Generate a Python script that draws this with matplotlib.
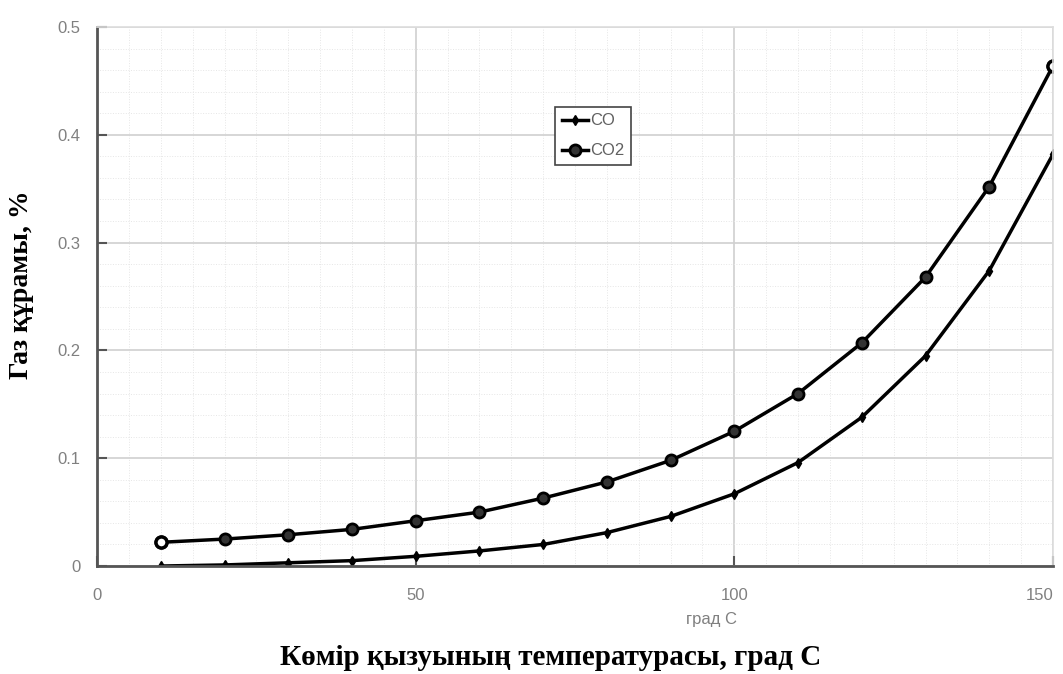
import numpy as np
import matplotlib.pyplot as plt
from matplotlib.ticker import MultipleLocator

# temperature, grad C
temp = [10, 20, 30, 40, 50, 60, 70, 80, 90, 100, 110, 120, 130, 140, 150]
# gas content, %
co = [0.000, 0.001, 0.003, 0.005, 0.009, 0.014, 0.020, 0.031, 0.046,
      0.067, 0.096, 0.138, 0.195, 0.274, 0.382]
co2 = [0.022, 0.025, 0.029, 0.034, 0.042, 0.050, 0.063, 0.078, 0.098,
       0.125, 0.160, 0.207, 0.268, 0.352, 0.464]

x_ticks = [0, 50, 100, 150]
y_ticks = [0, 0.1, 0.2, 0.3, 0.4, 0.5]
y_labels = ['0', '0.1', '0.2', '0.3', '0.4', '0.5']

tick_font = ['Liberation Sans', 'DejaVu Sans']
label_font = ['Liberation Serif', 'DejaVu Serif']

fig = plt.figure(figsize=(10.63, 6.74), dpi=100)
ax = fig.add_axes([0.0913, 0.1602, 0.8993, 0.7998])

ax.set_xlim(0, 150)
ax.set_ylim(0, 0.5)
ax.set_xticks(x_ticks)
ax.set_yticks(y_ticks)
ax.set_xticklabels([str(t) for t in x_ticks], family=tick_font, fontsize=12, color='#808080')
ax.set_yticklabels(y_labels, family=tick_font, fontsize=12, color='#808080')
# last x label sits against the right edge
ax.get_xticklabels()[-1].set_horizontalalignment('right')
ax.xaxis.set_minor_locator(MultipleLocator(5))
ax.yaxis.set_minor_locator(MultipleLocator(0.02))

ax.grid(which='major', color='#d0d0d0', linewidth=1.2)
ax.grid(which='minor', color='#e6e6e6', linewidth=0.7, linestyle=':')
ax.set_axisbelow(True)

ax.tick_params(which='major', direction='in', length=7, width=1.5, color='#555555')
ax.tick_params(axis='x', pad=16)
ax.tick_params(axis='y', pad=12)
ax.tick_params(which='minor', length=0)

for side in ['top', 'right']:
    ax.spines[side].set_color('#dddddd')
    ax.spines[side].set_linewidth(1.2)
for side in ['left', 'bottom']:
    ax.spines[side].set_color('#555555')
    ax.spines[side].set_linewidth(2)

ax.plot(temp, co, color='black', linewidth=2.5, marker='d', markersize=5, label='CO')
ax.plot(temp, co2, color='black', linewidth=2.5, marker='o', markersize=8,
        markerfacecolor='#333333', markeredgewidth=2, label='CO2')
# open end markers on the CO2 curve
ax.plot(temp, co2, linestyle='none', marker='o', markersize=8, markevery=[0, len(temp) - 1],
        markerfacecolor='white', markeredgecolor='black', markeredgewidth=2.5)

leg = ax.legend(loc='upper left', bbox_to_anchor=(0.479, 0.852),
                prop={'family': tick_font, 'size': 12}, handlelength=1.6,
                handletextpad=0.1, borderpad=0.4, labelspacing=0.9,
                borderaxespad=0, fancybox=False, framealpha=1)
leg.get_frame().set_edgecolor('#444444')
leg.get_frame().set_linewidth(1.2)
for t in leg.get_texts():
    t.set_color('#606060')

ax.text(0.643, -0.085, 'град С', transform=ax.transAxes, ha='center', va='top',
        family=tick_font, fontsize=12, color='#808080')

fig.text(0.518, 0.024, 'Көмір қызуының температурасы, град С', ha='center', va='center',
         family=label_font, fontsize=21, fontweight='bold')
fig.text(0.02, 0.577, 'Газ құрамы, %', ha='center', va='center', rotation=90,
         family=label_font, fontsize=20, fontweight='bold')

fig.savefig('out.png', dpi=100)
